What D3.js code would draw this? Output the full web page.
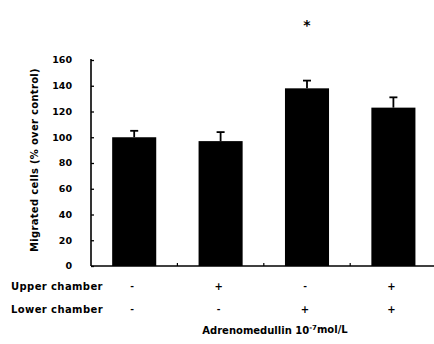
<!DOCTYPE html>
<html>
<head>
<meta charset="utf-8">
<script src="https://cdn.jsdelivr.net/npm/d3@7"></script>
<style>
  body { margin: 0; background: #fff; }
  svg text { font-family: "DejaVu Sans", "Liberation Sans", Arial, sans-serif; font-weight: bold; fill: #000; }
</style>
</head>
<body>
<div id="chart"></div>
<script>
// Chart data
const groups = ["g1", "g2", "g3", "g4"];
const values = [100, 97, 138, 123];
const errors = [5, 7, 6, 8];
const upper = ["-", "+", "-", "+"];
const lower = ["-", "-", "+", "+"];
const significant = [false, false, true, false];
const yTicks = [0, 20, 40, 60, 80, 100, 120, 140, 160];

const width = 434, height = 344;

const svg = d3.select("#chart").append("svg")
  .attr("width", width)
  .attr("height", height);

const x = d3.scaleBand()
  .domain(groups)
  .range([91, 436.6])
  .paddingInner(0.49)
  .paddingOuter(0.245);

const y = d3.scaleLinear()
  .domain([0, 160])
  .range([266, 60]);

// y axis, ticks pointing inward
const yAxis = svg.append("g")
  .attr("transform", `translate(${x.range()[0]},0)`)
  .call(d3.axisRight(y).tickValues(yTicks).tickSize(3).tickFormat(""));
yAxis.select(".domain").attr("stroke-width", 1.6).attr("d", `M0,${y(160) - 1}V${y(0)}`);
yAxis.selectAll(".tick line").attr("stroke-width", 1.3);

svg.append("g").selectAll("text")
  .data(yTicks)
  .join("text")
  .attr("x", 72)
  .attr("y", d => y(d))
  .attr("dy", "0.36em")
  .attr("text-anchor", "end")
  .attr("font-size", 9.5)
  .text(d => d);

// x axis line
svg.append("line")
  .attr("x1", x.range()[0]).attr("x2", width)
  .attr("y1", y(0)).attr("y2", y(0))
  .attr("stroke", "#000").attr("stroke-width", 1.6);

// small ticks between groups
const gap = (x.step() - x.bandwidth()) / 2;
svg.append("g").selectAll("line")
  .data(groups.slice(1))
  .join("line")
  .attr("x1", d => x(d) - gap)
  .attr("x2", d => x(d) - gap)
  .attr("y1", y(0))
  .attr("y2", y(0) - 3)
  .attr("stroke", "#000")
  .attr("stroke-width", 1.2);

// bars
svg.append("g").selectAll("rect")
  .data(groups)
  .join("rect")
  .attr("x", d => x(d))
  .attr("y", (d, i) => y(values[i]))
  .attr("width", x.bandwidth())
  .attr("height", (d, i) => y(0) - y(values[i]))
  .attr("fill", "#000");

// error bars
const eb = svg.append("g").attr("stroke", "#000").attr("stroke-width", 1.8);
groups.forEach((g, i) => {
  const cx = x(g) + x.bandwidth() / 2;
  eb.append("line").attr("x1", cx).attr("x2", cx)
    .attr("y1", y(values[i])).attr("y2", y(values[i] + errors[i]));
  eb.append("line").attr("x1", cx - 4).attr("x2", cx + 4)
    .attr("y1", y(values[i] + errors[i])).attr("y2", y(values[i] + errors[i]));
});

// significance asterisk
svg.append("g").selectAll("text")
  .data(groups.filter((g, i) => significant[i]))
  .join("text")
  .attr("x", d => x(d) + x.bandwidth() / 2)
  .attr("y", 30)
  .attr("text-anchor", "middle")
  .attr("font-size", 14)
  .text("*");

// y axis title
svg.append("text")
  .attr("transform", "translate(38,160) rotate(-90)")
  .attr("text-anchor", "middle")
  .attr("font-size", 10)
  .attr("letter-spacing", 0.3)
  .text("Migrated cells (% over control)");

// treatment rows
const rows = [
  { label: "Upper chamber", marks: upper, y: 286 },
  { label: "Lower chamber", marks: lower, y: 309 }
];
rows.forEach(r => {
  svg.append("text")
    .attr("x", 11).attr("y", r.y).attr("dy", "0.36em")
    .attr("font-size", 10)
    .attr("letter-spacing", 0.4)
    .text(r.label);
  svg.append("g").selectAll("text")
    .data(groups)
    .join("text")
    .attr("x", d => x(d) + x.bandwidth() / 2 - 2)
    .attr("y", r.y)
    .attr("dy", "0.36em")
    .attr("text-anchor", "middle")
    .attr("font-size", (d, i) => r.marks[i] === "+" ? 10 : 9)
    .text((d, i) => r.marks[i]);
});

// x axis title
const xt = svg.append("text")
  .attr("x", 275).attr("y", 330)
  .attr("dy", "0.36em")
  .attr("text-anchor", "middle")
  .attr("font-size", 10);
xt.append("tspan").text("Adrenomedullin 10");
xt.append("tspan").attr("font-size", 7).attr("dy", "-0.45em").text("-7");
xt.append("tspan").attr("dy", "0.3em").text("mol/L");
</script>
</body>
</html>
